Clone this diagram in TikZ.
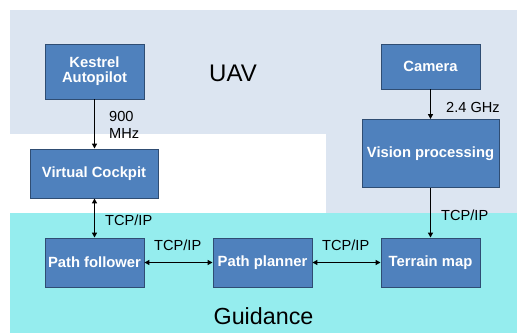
\documentclass[tikz,border=0pt]{standalone}
\usepackage{fontspec}
\setmainfont{Liberation Sans}
\usetikzlibrary{arrows.meta}
\definecolor{uavbg}{HTML}{DCE5F1}
\definecolor{guidbg}{HTML}{95EDEE}
\definecolor{boxfill}{HTML}{4F81BD}
\definecolor{boxline}{HTML}{2F4D73}
\tikzset{
  blk/.style={draw=boxline, line width=0.9pt, fill=boxfill, text=white,
    font=\fontsize{14.8}{16}\selectfont\bfseries, align=center, inner sep=0pt},
  lbl/.style={font=\fontsize{14.6}{17.5}\selectfont, text=black, inner sep=0pt, align=left},
  link/.style={line width=1.3pt, -{Triangle[length=5pt,width=5pt]}},
  duplex/.style={line width=1.3pt, {Triangle[length=5pt,width=5pt]}-{Triangle[length=5pt,width=5pt]}},
}
\begin{document}
\begin{tikzpicture}[x=1pt,y=-1pt]
\useasboundingbox (0,0) rectangle (517,333);
% regions
\fill[uavbg] (10,10) rectangle (517,213);
\fill[white] (10,134) rectangle (326,213);
\fill[guidbg] (10,213) rectangle (517,333);
\node[font=\fontsize{24}{28}\selectfont] (uav) at (233,73) {UAV};
\node[font=\fontsize{23.3}{28}\selectfont] (guid) at (263.5,316) {Guidance};
% blocks
\node[blk, minimum width=99pt, minimum height=55pt] (kes) at (94.5,71.5) {Kestrel\\[-1pt]Autopilot};
\node[blk, minimum width=99pt, minimum height=45pt] (cam) at (430.5,66.5) {Camera};
\node[blk, minimum width=137pt, minimum height=68pt] (vis) at (430.5,153.5) {Vision processing};
\node[blk, minimum width=128pt, minimum height=49pt] (vc) at (94,173.5) {Virtual Cockpit};
\node[blk, minimum width=99pt, minimum height=49pt] (pf) at (94.5,262.5) {Path follower};
\node[blk, minimum width=99pt, minimum height=49pt] (pp) at (262.5,262.5) {Path planner};
\node[blk, minimum width=99pt, minimum height=49pt] (tm) at (430.5,262.5) {Terrain map};
% connectors
\draw[link] (kes.south) -- (vc.north -| kes.south);
\draw[link] (cam.south) -- (vis.north);
\draw[duplex] (vc.south -| pf.north) -- (pf.north);
\draw[link] (vis.south) -- (tm.north);
\draw[duplex] (pf.east) -- (pp.west);
\draw[duplex] (pp.east) -- (tm.west);
% labels
\node[lbl, anchor=west] (l1) at (109,125) {900\\MHz};
\node[lbl, anchor=west] (l2) at (446,107) {2.4 GHz};
\node[lbl, anchor=west] (l3) at (105,220) {TCP/IP};
\node[lbl, anchor=west] (l4) at (154,245) {TCP/IP};
\node[lbl, anchor=west] (l5) at (322,245) {TCP/IP};
\node[lbl, anchor=west] (l6) at (441,215) {TCP/IP};
\end{tikzpicture}
\end{document}
